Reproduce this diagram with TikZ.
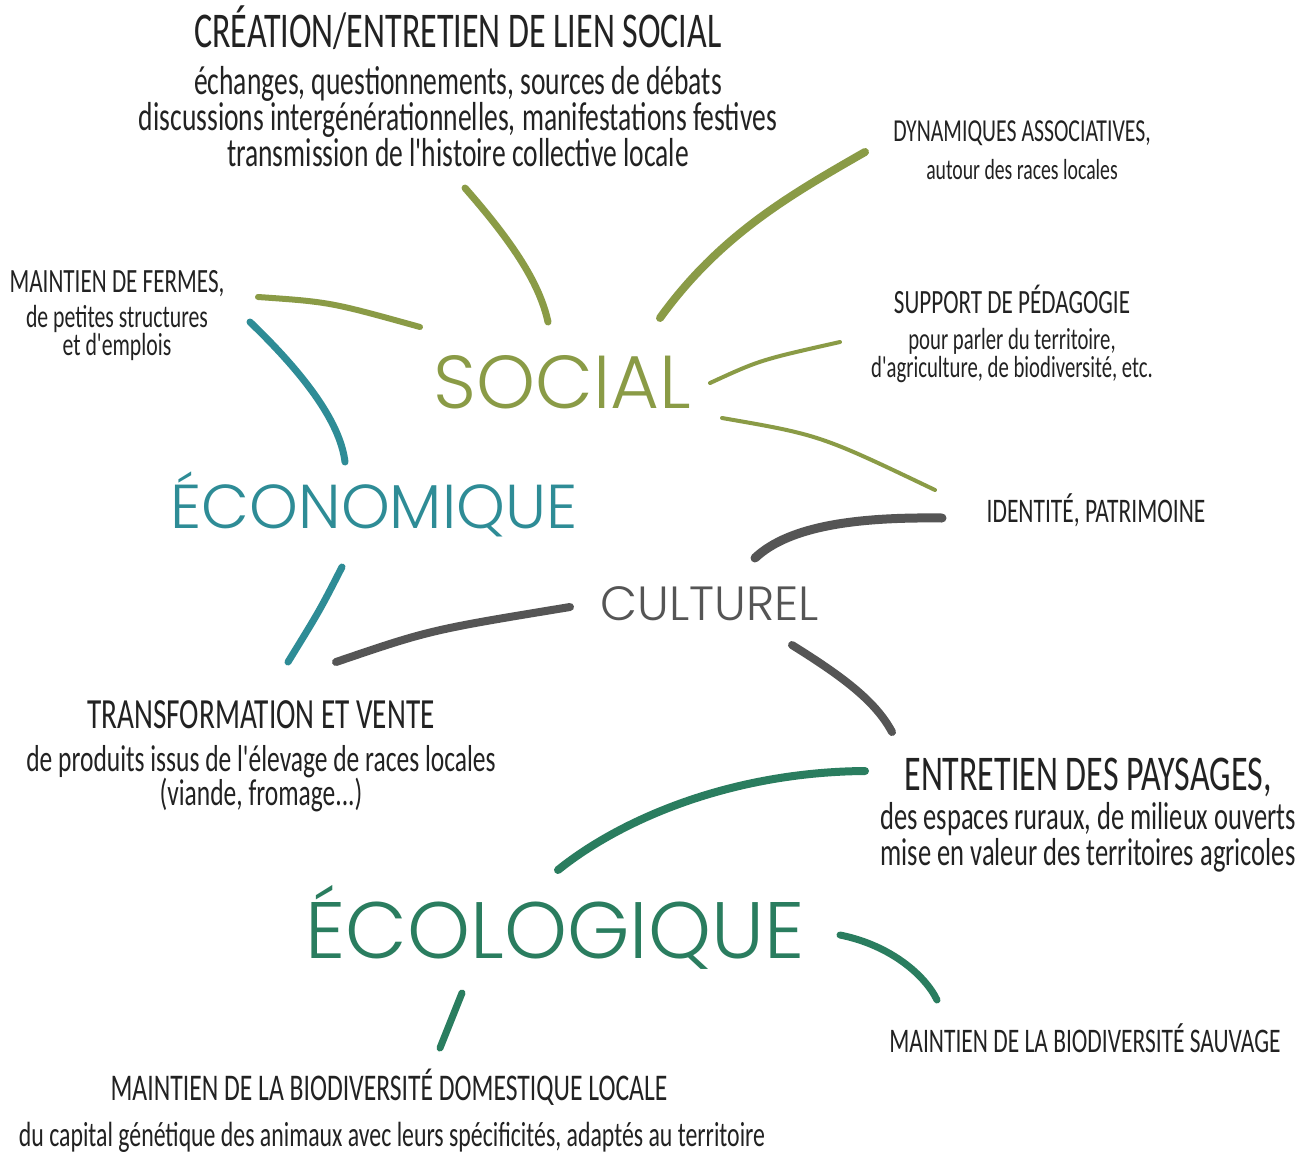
\documentclass[tikz,border=0pt]{standalone}
\usepackage{fontspec}
\usepackage{xcolor}
\usetikzlibrary{positioning}

\newfontfamily\hand{Carlito}[FakeStretch=0.68]
\IfFontExistsTF{Poppins Light}
  {\newfontfamily\geofont{Poppins Light}}
  {\newfontfamily\geofont{Poppins}}

\definecolor{ink}{HTML}{222222}
\definecolor{socialc}{HTML}{8A9B46}
\definecolor{ecoc}{HTML}{2E8C96}
\definecolor{culturec}{HTML}{555555}
\definecolor{ecoloc}{HTML}{2A7D5F}

\begin{document}
\begin{tikzpicture}[x=1pt, y=-1pt]
		\tikzset{
			head/.style={font=\hand\fontsize{#1}{#1}\selectfont, text=ink, inner sep=0pt, anchor=base},
			sub/.style 2 args={font=\hand\fontsize{#1}{#2}\selectfont, text=ink, inner sep=0pt, align=center, anchor=north},
			pole/.style={font=\geofont\fontsize{#1}{#1}\selectfont, inner sep=0pt, anchor=base},
			brush/.style={line cap=round, line width=#1}
		}
		\fill[white] (0,0) rectangle (1316,1153);
		\useasboundingbox (0,0) rectangle (1316,1153);
		
		% the four poles
		\node[pole=75, text=socialc] (social) at (562,408) {SOCIAL};
		\node[pole=62, text=ecoc] (eco) at (374,528) {ÉCONOMIQUE};
		\node[pole=48, text=culturec] (culture) at (710,620) {CULTUREL};
		\node[pole=80, text=ecoloc] (ecolo) at (555,958) {ÉCOLOGIQUE};
		
		% labels
		\node[head=50] (lien) at (458,48) {CRÉATION/ENTRETIEN DE LIEN SOCIAL};
		\node[sub={40.5}{36}] (lien-d) at (458,66) {échanges, questionnements, sources de débats\\discussions intergénérationnelles, manifestations festives\\transmission de l'histoire collective locale};
		\node[head=32] (asso) at (1022,142) {DYNAMIQUES ASSOCIATIVES,};
		\node[sub={29}{29}] (asso-d) at (1022,159) {autour des races locales};
		\node[head=34] (fermes) at (117,292) {MAINTIEN DE FERMES,};
		\node[sub={32}{28}] (fermes-d) at (117,305) {de petites structures\\et d'emplois};
		\node[head=34] (peda) at (1012,313) {SUPPORT DE PÉDAGOGIE};
		\node[sub={30.5}{28}] (peda-d) at (1012,328) {pour parler du territoire,\\d'agriculture, de biodiversité, etc.};
		\node[head=34.5] (ident) at (1096,522) {IDENTITÉ, PATRIMOINE};
		\node[head=43] (vente) at (261,728) {TRANSFORMATION ET VENTE};
		\node[sub={37.5}{34}] (vente-d) at (261,745) {de produits issus de l'élevage de races locales\\(viande, fromage...)};
		\node[head=50] (paysage) at (1088,790) {ENTRETIEN DES PAYSAGES,};
		\node[sub={39}{36}] (paysage-d) at (1088,802) {des espaces ruraux, de milieux ouverts\\mise en valeur des territoires agricoles};
		\node[head=34.5] (sauvage) at (1085,1052) {MAINTIEN DE LA BIODIVERSITÉ SAUVAGE};
		\node[head=37.7] (domest) at (389,1100) {MAINTIEN DE LA BIODIVERSITÉ DOMESTIQUE LOCALE};
		\node[sub={35}{35}] (domest-d) at (392,1122) {du capital génétique des animaux avec leurs spécificités, adaptés au territoire};
		
		% brush stroke ends
		\coordinate (s1a) at (465,188); \coordinate (s1b) at (548,322);
		\coordinate (s2a) at (660,318); \coordinate (s2b) at (865,152);
		\coordinate (s3a) at (258,297); \coordinate (s3b) at (420,327);
		\coordinate (s4a) at (710,383); \coordinate (s4b) at (840,342);
		\coordinate (s5a) at (722,418); \coordinate (s5b) at (935,490);
		\coordinate (e1a) at (250,322); \coordinate (e1b) at (345,462);
		\coordinate (e2a) at (342,567); \coordinate (e2b) at (288,662);
		\coordinate (c1a) at (755,558); \coordinate (c1b) at (942,518);
		\coordinate (c2a) at (336,662); \coordinate (c2b) at (570,607);
		\coordinate (c3a) at (792,645); \coordinate (c3b) at (892,732);
		\coordinate (g1a) at (558,870); \coordinate (g1b) at (865,771);
		\coordinate (g2a) at (840,935); \coordinate (g2b) at (937,1000);
		\coordinate (g3a) at (462,993); \coordinate (g3b) at (440,1048);
		
		% social strokes
		\draw[socialc, brush=7] (s1a) .. controls (515,245) and (540,285) .. (s1b);
		\draw[socialc, brush=8] (s2a) .. controls (720,235) and (790,195) .. (s2b);
		\draw[socialc, brush=6] (s3a) .. controls (330,302) .. (s3b);
		\draw[socialc, brush=4] (s4a) .. controls (760,360) .. (s4b);
		\draw[socialc, brush=4] (s5a) .. controls (820,435) .. (s5b);
		% economic strokes
		\draw[ecoc, brush=7] (e1a) .. controls (300,370) and (340,420) .. (e1b);
		\draw[ecoc, brush=7] (e2a) .. controls (320,610) .. (e2b);
		% cultural strokes
		\draw[culturec, brush=9] (c1a) .. controls (790,525) and (860,517) .. (c1b);
		\draw[culturec, brush=8] (c2a) .. controls (430,630) .. (c2b);
		\draw[culturec, brush=8] (c3a) .. controls (840,675) and (875,700) .. (c3b);
		% ecological strokes
		\draw[ecoloc, brush=8] (g1a) .. controls (620,820) and (730,772) .. (g1b);
		\draw[ecoloc, brush=7] (g2a) .. controls (890,945) and (925,975) .. (g2b);
		\draw[ecoloc, brush=7] (g3a) -- (g3b);
	\end{tikzpicture}
\end{document}
